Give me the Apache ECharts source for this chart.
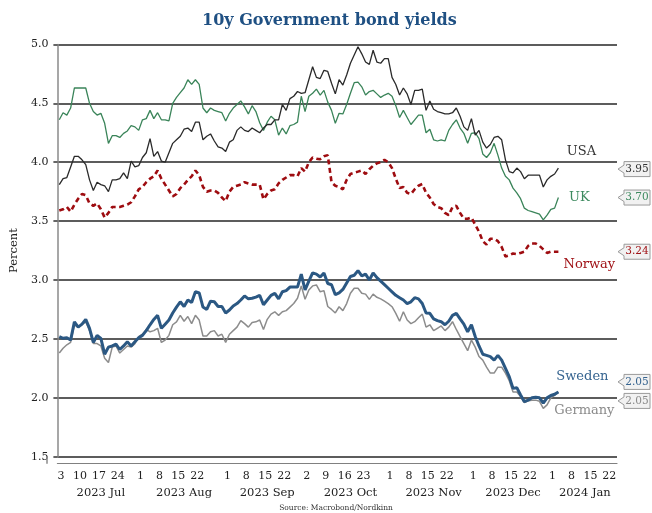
<!DOCTYPE html>
<html>
<head>
<meta charset="utf-8">
<script src="https://cdn.jsdelivr.net/npm/echarts@6/dist/echarts.min.js"></script>
<style>
html,body{margin:0;padding:0;background:#fff;}
#chart{width:652px;height:513px;}
</style>
</head>
<body>
<div id="chart"></div>
<script>
// ---------------- DATA ----------------
const START_DATE = '2023-06-30';
const END_DATE = '2024-01-23';
const TICK_DATES = ['2023-07-03','2023-07-10','2023-07-17','2023-07-24','2023-08-01','2023-08-08','2023-08-15','2023-08-22',
  '2023-09-01','2023-09-08','2023-09-15','2023-09-22','2023-10-02','2023-10-09','2023-10-16','2023-10-23',
  '2023-11-01','2023-11-08','2023-11-15','2023-11-22','2023-12-01','2023-12-08','2023-12-15','2023-12-22',
  '2024-01-01','2024-01-08','2024-01-15','2024-01-22'];
const MONTH_KEYS = ['2023-07','2023-08','2023-09','2023-10','2023-11','2023-12','2024-01'];
const MONTH_LABELS = ['2023 Jul','2023 Aug','2023 Sep','2023 Oct','2023 Nov','2023 Dec','2024 Jan'];
const Y_TICKS = [1.5, 2.0, 2.5, 3.0, 3.5, 4.0, 4.5, 5.0];

const usa = [3.81,3.86,3.87,3.96,4.05,4.05,4.02,3.98,3.85,3.76,
  3.83,3.81,3.80,3.75,3.85,3.85,3.86,3.91,3.86,4.01,
  3.96,3.97,4.04,4.08,4.20,4.05,4.09,4.01,4.00,4.08,
  4.16,4.19,4.22,4.28,4.29,4.26,4.34,4.34,4.19,4.22,
  4.24,4.18,4.13,4.12,4.09,4.17,4.19,4.27,4.30,4.27,
  4.26,4.29,4.27,4.25,4.29,4.32,4.32,4.36,4.36,4.49,
  4.44,4.54,4.56,4.60,4.585,4.59,4.70,4.81,4.72,4.71,
  4.78,4.77,4.67,4.58,4.70,4.655,4.74,4.84,4.91,4.98,
  4.92,4.85,4.83,4.95,4.85,4.84,4.88,4.88,4.72,4.66,
  4.57,4.63,4.58,4.49,4.61,4.61,4.62,4.44,4.52,4.45,
  4.43,4.42,4.41,4.41,4.42,4.46,4.39,4.30,4.27,4.37,
  4.23,4.27,4.17,4.12,4.15,4.21,4.22,4.19,4.02,3.92,
  3.91,3.95,3.92,3.86,3.89,3.89,3.89,3.89,3.79,3.85,
  3.88,3.90,3.95];
const uk = [4.36,4.42,4.40,4.46,4.63,4.63,4.63,4.63,4.50,4.43,
  4.40,4.415,4.33,4.16,4.225,4.225,4.21,4.245,4.265,4.31,
  4.30,4.27,4.36,4.37,4.44,4.37,4.42,4.36,4.36,4.35,
  4.50,4.55,4.59,4.63,4.70,4.66,4.70,4.66,4.46,4.42,
  4.46,4.44,4.43,4.42,4.35,4.415,4.46,4.49,4.52,4.47,
  4.41,4.48,4.43,4.335,4.27,4.34,4.39,4.36,4.23,4.29,
  4.24,4.31,4.32,4.34,4.56,4.43,4.56,4.585,4.62,4.57,
  4.61,4.51,4.44,4.33,4.415,4.41,4.49,4.585,4.675,4.68,
  4.64,4.57,4.60,4.61,4.58,4.55,4.57,4.585,4.56,4.48,
  4.38,4.44,4.38,4.32,4.36,4.40,4.40,4.25,4.28,4.19,
  4.18,4.19,4.18,4.27,4.32,4.36,4.29,4.245,4.16,4.245,
  4.25,4.20,4.07,4.04,4.08,4.16,4.06,3.95,3.88,3.85,
  3.78,3.74,3.69,3.61,3.59,3.58,3.57,3.56,3.51,3.55,
  3.60,3.61,3.70];
const norway = [3.59,3.60,3.62,3.58,3.64,3.69,3.73,3.72,3.65,3.63,
  3.65,3.60,3.53,3.57,3.62,3.62,3.62,3.63,3.64,3.66,
  3.71,3.77,3.79,3.83,3.86,3.88,3.93,3.86,3.81,3.76,
  3.71,3.73,3.78,3.81,3.85,3.88,3.93,3.89,3.79,3.75,
  3.76,3.76,3.74,3.70,3.67,3.75,3.79,3.80,3.81,3.83,
  3.82,3.81,3.81,3.81,3.685,3.73,3.76,3.77,3.82,3.85,
  3.87,3.89,3.89,3.88,3.95,3.92,4.00,4.04,4.03,4.025,
  4.05,4.06,3.83,3.80,3.79,3.77,3.85,3.90,3.91,3.92,
  3.93,3.90,3.94,3.97,3.99,4.00,4.02,4.00,3.95,3.86,
  3.78,3.79,3.74,3.73,3.77,3.80,3.815,3.74,3.70,3.645,
  3.62,3.61,3.57,3.55,3.62,3.63,3.57,3.52,3.52,3.53,
  3.47,3.41,3.33,3.30,3.35,3.35,3.33,3.28,3.20,3.21,
  3.225,3.22,3.23,3.24,3.29,3.31,3.31,3.29,3.26,3.23,
  3.24,3.24,3.24];
const sweden = [2.52,2.505,2.51,2.49,2.645,2.60,2.625,2.665,2.59,2.47,
  2.53,2.505,2.37,2.43,2.44,2.455,2.41,2.44,2.475,2.44,
  2.475,2.51,2.53,2.57,2.62,2.665,2.70,2.59,2.625,2.66,
  2.72,2.77,2.815,2.775,2.83,2.81,2.90,2.89,2.77,2.75,
  2.82,2.815,2.775,2.775,2.72,2.745,2.78,2.80,2.83,2.865,
  2.84,2.845,2.855,2.87,2.79,2.83,2.87,2.887,2.84,2.90,
  2.91,2.94,2.94,2.94,3.05,2.915,2.99,3.06,3.05,3.025,
  3.06,2.97,2.96,2.875,2.89,2.92,2.975,3.03,3.04,3.08,
  3.035,3.05,3.00,3.06,3.02,2.99,2.96,2.93,2.90,2.87,
  2.85,2.83,2.80,2.815,2.85,2.84,2.80,2.72,2.717,2.67,
  2.655,2.646,2.62,2.65,2.70,2.717,2.67,2.625,2.56,2.62,
  2.52,2.44,2.37,2.36,2.35,2.32,2.36,2.32,2.25,2.18,
  2.08,2.086,2.024,1.967,1.98,2.00,2.005,2.00,1.955,2.00,
  2.02,2.03,2.05];
const germany = [2.38,2.42,2.45,2.47,2.62,2.60,2.62,2.645,2.57,2.46,
  2.46,2.44,2.335,2.30,2.43,2.44,2.38,2.41,2.44,2.43,
  2.46,2.52,2.54,2.58,2.56,2.57,2.59,2.47,2.49,2.53,
  2.62,2.645,2.70,2.65,2.69,2.63,2.70,2.66,2.525,2.525,
  2.56,2.57,2.525,2.54,2.47,2.54,2.57,2.60,2.655,2.63,
  2.60,2.64,2.645,2.66,2.58,2.666,2.71,2.73,2.70,2.73,
  2.74,2.77,2.80,2.845,2.95,2.836,2.915,2.95,2.958,2.90,
  2.91,2.775,2.75,2.72,2.773,2.74,2.80,2.887,2.93,2.93,
  2.887,2.88,2.836,2.88,2.853,2.84,2.82,2.80,2.773,2.717,
  2.65,2.73,2.66,2.63,2.646,2.68,2.71,2.60,2.62,2.57,
  2.59,2.61,2.57,2.60,2.646,2.58,2.52,2.46,2.40,2.49,
  2.43,2.35,2.32,2.26,2.21,2.21,2.26,2.26,2.21,2.145,
  2.05,2.05,2.01,1.96,1.975,1.98,1.98,1.97,1.91,1.94,
  2.00,2.02,2.05];

// ---------------- BUILD ----------------
function businessDays(start, end) {
  const out = [];
  let d = new Date(start + 'T00:00:00Z');
  const e = new Date(end + 'T00:00:00Z');
  while (d <= e) {
    const w = d.getUTCDay();
    if (w !== 0 && w !== 6) out.push(d.toISOString().slice(0, 10));
    d = new Date(d.getTime() + 86400000);
  }
  return out;
}
const categories = businessDays(START_DATE, END_DATE);
const tickSet = new Set(TICK_DATES);
const monthMid = {};
MONTH_KEYS.forEach((k, i) => {
  const first = categories.findIndex(c => c.startsWith(k));
  let next = i + 1 < MONTH_KEYS.length ? categories.findIndex(c => c.startsWith(MONTH_KEYS[i + 1])) : categories.length;
  monthMid[categories[Math.floor((first + next) / 2)]] = MONTH_LABELS[i];
});

const FONT = 'DejaVu Serif';
const C = {
  usa: '#2a2a2a', uk: '#3a8459', norway: '#9e0c10', sweden: '#2b5883', germany: '#8c8c8c'
};

const chart = echarts.init(document.getElementById('chart'), null, {renderer: 'canvas'});
chart.setOption({
  animation: false,
  backgroundColor: '#fff',
  title: {
    text: '10y Government bond yields', left: 197, top: 8,
    textStyle: {fontFamily: FONT, fontWeight: 'bold', fontSize: 16, color: '#1f5083'}
  },
  grid: {left: 47, right: 35, top: 44.4, bottom: 56.3, containLabel: false},
  xAxis: [{
    type: 'category', data: categories, boundaryGap: true, offset: 7,
    axisLine: {lineStyle: {color: '#808080', width: 1.2}},
    axisTick: {interval: (i, v) => tickSet.has(v), length: 4, lineStyle: {color: '#555'}},
    axisLabel: {interval: (i, v) => tickSet.has(v), formatter: v => String(+v.slice(8)),
      fontFamily: FONT, fontSize: 11, color: '#222', margin: 7, padding: [0, 4, 0, 0]},
    splitLine: {show: false}
  }, {
    type: 'category', data: categories, boundaryGap: true, position: 'bottom', offset: 7,
    axisLine: {show: false}, axisTick: {show: false},
    axisLabel: {interval: (i, v) => v in monthMid, formatter: v => monthMid[v] || '',
      fontFamily: FONT, fontSize: 11.5, color: '#222', margin: 23},
    splitLine: {show: false}
  }],
  yAxis: {
    type: 'value', min: Y_TICKS[0], max: Y_TICKS[Y_TICKS.length - 1], interval: 0.5,
    name: 'Percent', nameLocation: 'middle', nameGap: 34, nameRotate: 90,
    nameTextStyle: {fontFamily: FONT, fontSize: 11.5, color: '#222'},
    axisLine: {show: true, lineStyle: {color: '#8a8a8a', width: 1.5}},
    axisTick: {show: true, length: 4, lineStyle: {color: '#333', width: 1.5}},
    axisLabel: {formatter: v => v.toFixed(1), fontFamily: FONT, fontSize: 11, color: '#222', margin: 9},
    splitLine: {lineStyle: {color: '#262626', width: 1.5}}
  },
  series: [
    {name: 'Norway', type: 'line', data: norway, showSymbol: false, z: 3,
      lineStyle: {color: C.norway, width: 2.6, type: [5, 3.5]}},
    {name: 'UK', type: 'line', data: uk, showSymbol: false, z: 4,
      lineStyle: {color: C.uk, width: 1.3}},
    {name: 'USA', type: 'line', data: usa, showSymbol: false, z: 5,
      lineStyle: {color: C.usa, width: 1.3}},
    {name: 'Germany', type: 'line', data: germany, showSymbol: false, z: 6,
      lineStyle: {color: C.germany, width: 1.5}},
    {name: 'Sweden', type: 'line', data: sweden, showSymbol: false, z: 7,
      lineStyle: {color: C.sweden, width: 3}}
  ]
});

// ---------------- ANNOTATIONS ----------------
const ANN = [
  {name: 'USA', data: usa, tcolor: '#333', ndx: 23, ndy: -16, bdy: 1},
  {name: 'UK', data: uk, tcolor: '#3d8a5f', ndx: 21, ndy: 0, bdy: 0},
  {name: 'Norway', data: norway, tcolor: '#a01216', ndx: 31, ndy: 13, bdy: 0},
  {name: 'Sweden', data: sweden, tcolor: '#35638f', ndx: 24, ndy: -15, bdy: -10},
  {name: 'Germany', data: germany, tcolor: '#8a8a8a', ndx: 26, ndy: 19, bdy: 9}
];
const graphics = [];
const gridRight = 617;
ANN.forEach(a => {
  const last = a.data.length - 1;
  const p = chart.convertToPixel({xAxisIndex: 0, yAxisIndex: 0}, [last, a.data[last]]);
  graphics.push({type: 'text', x: p[0] + a.ndx, y: p[1] + a.ndy, z: 100,
    style: {text: a.name, fill: a.tcolor, font: '13px "' + FONT + '"', textAlign: 'center', textVerticalAlign: 'middle'}});
  const by = p[1] + a.bdy;
  const x0 = gridRight + 1, bx = x0 + 6, bw = 26, h = 7.5;
  graphics.push({type: 'polygon', z: 100,
    shape: {points: [[bx, by - h], [bx, by - 4], [x0, by], [bx, by + 4], [bx, by + h], [bx + bw, by + h], [bx + bw, by - h]]},
    style: {fill: '#f1f1f1', stroke: '#9a9a9a', lineWidth: 1}});
  graphics.push({type: 'text', x: bx + bw / 2, y: by, z: 101,
    style: {text: a.data[last].toFixed(2), fill: a.tcolor, font: '10.5px "' + FONT + '"', textAlign: 'center', textVerticalAlign: 'middle'}});
});
// extend the y axis line down to the offset x axis line
const pBottom = chart.convertToPixel({xAxisIndex: 0, yAxisIndex: 0}, [0, Y_TICKS[0]]);
graphics.push({type: 'line', z: 50, shape: {x1: 47, y1: pBottom[1], x2: 47, y2: pBottom[1] + 7},
  style: {stroke: '#8a8a8a', lineWidth: 1.5}});
graphics.push({type: 'text', x: 336, y: 508, style: {text: 'Source: Macrobond/Nordkinn', fill: '#333',
  font: '7.5px "' + FONT + '"', textAlign: 'center', textVerticalAlign: 'middle'}});
chart.setOption({graphic: graphics});
</script>
</body>
</html>
